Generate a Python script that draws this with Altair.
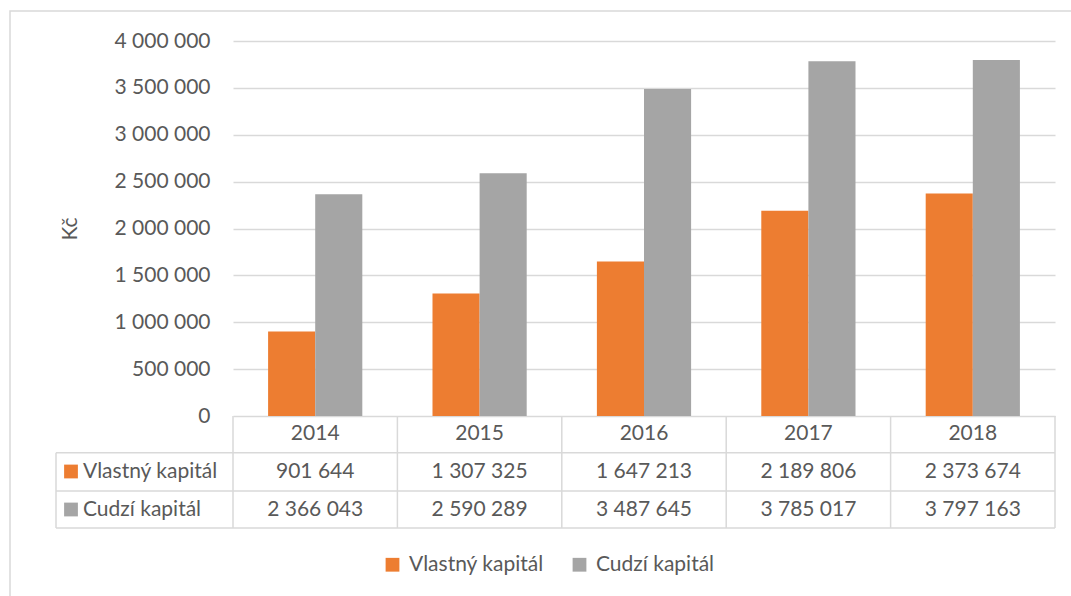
import altair as alt
import pandas as pd

years = ["2014", "2015", "2016", "2017", "2018"]
series = ["Vlastný kapitál", "Cudzí kapitál"]
vlastny = [901644, 1307325, 1647213, 2189806, 2373674]
cudzi = [2366043, 2590289, 3487645, 3785017, 3797163]
colors = ["#ED7D31", "#A5A5A5"]
y_ticks = [0, 500000, 1000000, 1500000, 2000000, 2500000, 3000000, 3500000, 4000000]
y_title = "Kč"


def fmt(v):
    return f"{v:,}".replace(",", " ")


rows = []
for i, yr in enumerate(years):
    rows.append({"year": yr, "series": series[0], "value": vlastny[i], "label": fmt(vlastny[i])})
    rows.append({"year": yr, "series": series[1], "value": cudzi[i], "label": fmt(cudzi[i])})
df = pd.DataFrame(rows)
df_years = pd.DataFrame({"year": years})
df_v = df[df["series"] == series[0]]
df_c = df[df["series"] == series[1]]

W, H = 822, 375
FONT = "Lato"
FS = 21
TXT = "#595959"
GRID = "#d9d9d9"

xscale = alt.Scale(domain=years, paddingInner=0, paddingOuter=0)
X = alt.X("year:N", scale=xscale, axis=None)

label_expr = "replace(replace(format(datum.value, ','), ',', ' '), ',', ' ')"

bars = alt.Chart(df).mark_bar().encode(
    x=X,
    xOffset=alt.XOffset("series:N", scale=alt.Scale(domain=series, paddingInner=0, paddingOuter=0.745)),
    y=alt.Y(
        "value:Q",
        scale=alt.Scale(domain=[0, 4000000], nice=False),
        axis=alt.Axis(
            values=y_ticks, labelExpr=label_expr, domain=False, ticks=False,
            labelFont=FONT, labelFontSize=FS, labelColor=TXT, labelPadding=23,
            gridColor=GRID, gridWidth=1.3,
            title=y_title, titleFont=FONT, titleFontSize=FS, titleColor=TXT,
            titleFontWeight="normal", titleX=-153, titleY=H / 2,
        ),
    ),
    color=alt.Color(
        "series:N",
        scale=alt.Scale(domain=series, range=colors),
        legend=alt.Legend(
            title=None, orient="none", legendX=149, legendY=513, direction="horizontal",
            symbolType="square", symbolSize=190, symbolStrokeWidth=0, symbolOpacity=1,
            labelFont=FONT, labelFontSize=FS, labelColor=TXT, labelOffset=6,
            columnPadding=25, labelLimit=300,
        ),
    ),
)

# outer frame
frame = alt.Chart(pd.DataFrame({"a": [0]})).mark_rect(
    fillOpacity=0, stroke=GRID, strokeWidth=1.5
).encode(x=alt.value(-223), x2=alt.value(W + 100), y=alt.value(-30), y2=alt.value(H + 300))

# data table grid
R1, R2, R3 = 411.7, 450, 487
hrules = alt.Chart(pd.DataFrame({"r": [R1, R2, R3]})).mark_rule(color=GRID, strokeWidth=1.5).encode(
    y=alt.Y("r:Q", scale=None), x=alt.value(-177), x2=alt.value(W)
)
vrules = alt.Chart(df_years).mark_rule(color=GRID, strokeWidth=1.5).encode(
    x=alt.X("year:N", scale=xscale, axis=None, bandPosition=0), y=alt.value(H), y2=alt.value(R3)
)
vright = alt.Chart(pd.DataFrame({"a": [0]})).mark_rule(color=GRID, strokeWidth=1.5).encode(
    x=alt.value(W), y=alt.value(H), y2=alt.value(R3)
)
vleft = alt.Chart(pd.DataFrame({"a": [0]})).mark_rule(color=GRID, strokeWidth=1.5).encode(
    x=alt.value(-177), y=alt.value(R1), y2=alt.value(R3)
)

text_kw = dict(font=FONT, fontSize=FS, color=TXT, baseline="middle")
t_years = alt.Chart(df_years).mark_text(**text_kw).encode(x=X, y=alt.value(393), text="year:N")
t_v = alt.Chart(df_v).mark_text(**text_kw).encode(x=X, y=alt.value(430.5), text="label:N")
t_c = alt.Chart(df_c).mark_text(**text_kw).encode(x=X, y=alt.value(468.5), text="label:N")

names_v = alt.Chart(df_v.head(1)).mark_text(align="left", **text_kw).encode(
    x=alt.value(-150), y=alt.value(430.5), text="series:N")
names_c = alt.Chart(df_c.head(1)).mark_text(align="left", **text_kw).encode(
    x=alt.value(-150), y=alt.value(468.5), text="series:N")
sq_v = alt.Chart(df_v.head(1)).mark_point(shape="square", filled=True, size=190, opacity=1).encode(
    x=alt.value(-162), y=alt.value(430.5), color=alt.value(colors[0]))
sq_c = alt.Chart(df_c.head(1)).mark_point(shape="square", filled=True, size=190, opacity=1).encode(
    x=alt.value(-162), y=alt.value(468.5), color=alt.value(colors[1]))

chart = alt.layer(
    frame, bars, hrules, vrules, vright, vleft, t_years, t_v, t_c, names_v, names_c, sq_v, sq_c
).properties(
    width=W, height=H,
    autosize=alt.AutoSizeParams(type="none"),
    padding={"left": 233, "top": 41, "right": 16, "bottom": 180},
    background="white",
).configure_view(strokeWidth=0)

chart.save("out.html", embed_options={"renderer": "svg", "actions": False})
